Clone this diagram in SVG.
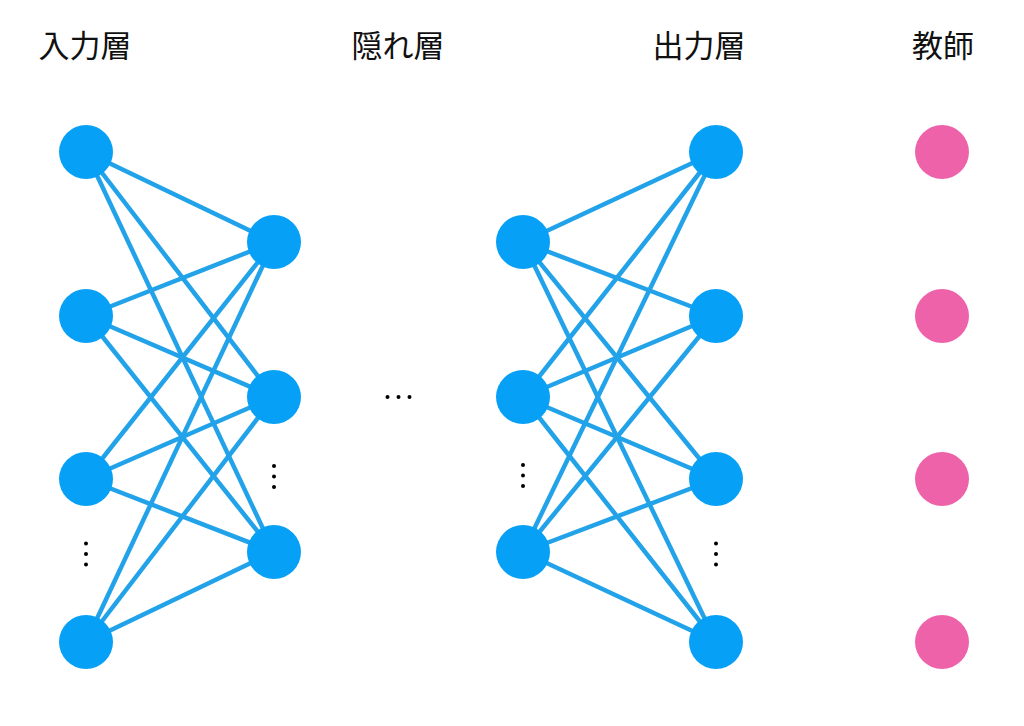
<svg xmlns="http://www.w3.org/2000/svg" width="1024" height="726" viewBox="0 0 1024 726">
<style>
.lbl{font-family:"Noto Sans CJK JP","Noto Sans",sans-serif;font-size:31px;fill:#111;text-anchor:middle}
.n{fill:#06a0f7}
.t{fill:#ee62a9}
.e line{stroke:#22a2e8;stroke-width:4.5;stroke-linecap:butt}
.d{fill:#000}
</style>
<rect width="1024" height="726" fill="#fff"/>
<g id="labels">
<text class="lbl" x="85" y="57">入力層</text>
<text class="lbl" x="398" y="57">隠れ層</text>
<text class="lbl" x="699" y="57">出力層</text>
<text class="lbl" x="943" y="57">教師</text>
</g>
<g id="connectors" class="e">
<line x1="86" y1="152" x2="274" y2="242"/>
<line x1="86" y1="152" x2="274" y2="397"/>
<line x1="86" y1="152" x2="274" y2="552"/>
<line x1="86" y1="316" x2="274" y2="242"/>
<line x1="86" y1="316" x2="274" y2="397"/>
<line x1="86" y1="316" x2="274" y2="552"/>
<line x1="86" y1="479" x2="274" y2="242"/>
<line x1="86" y1="479" x2="274" y2="397"/>
<line x1="86" y1="479" x2="274" y2="552"/>
<line x1="86" y1="642" x2="274" y2="242"/>
<line x1="86" y1="642" x2="274" y2="397"/>
<line x1="86" y1="642" x2="274" y2="552"/>
<line x1="523" y1="242" x2="716" y2="152"/>
<line x1="523" y1="242" x2="716" y2="316"/>
<line x1="523" y1="242" x2="716" y2="479"/>
<line x1="523" y1="242" x2="716" y2="642"/>
<line x1="523" y1="397" x2="716" y2="152"/>
<line x1="523" y1="397" x2="716" y2="316"/>
<line x1="523" y1="397" x2="716" y2="479"/>
<line x1="523" y1="397" x2="716" y2="642"/>
<line x1="523" y1="552" x2="716" y2="152"/>
<line x1="523" y1="552" x2="716" y2="316"/>
<line x1="523" y1="552" x2="716" y2="479"/>
<line x1="523" y1="552" x2="716" y2="642"/>
</g>
<g id="input">
<circle id="in1" class="n" cx="86" cy="152" r="27"/>
<circle id="in2" class="n" cx="86" cy="316" r="27"/>
<circle id="in3" class="n" cx="86" cy="479" r="27"/>
<circle id="in4" class="n" cx="86" cy="642" r="27"/>
</g>
<g id="hidden1">
<circle id="h1a" class="n" cx="274" cy="242" r="27"/>
<circle id="h1b" class="n" cx="274" cy="397" r="27"/>
<circle id="h1c" class="n" cx="274" cy="552" r="27"/>
</g>
<g id="hidden2">
<circle id="h2a" class="n" cx="523" cy="242" r="27"/>
<circle id="h2b" class="n" cx="523" cy="397" r="27"/>
<circle id="h2c" class="n" cx="523" cy="552" r="27"/>
</g>
<g id="output">
<circle id="o1" class="n" cx="716" cy="152" r="27"/>
<circle id="o2" class="n" cx="716" cy="316" r="27"/>
<circle id="o3" class="n" cx="716" cy="479" r="27"/>
<circle id="o4" class="n" cx="716" cy="642" r="27"/>
</g>
<g id="teacher">
<circle id="t1" class="t" cx="942" cy="152" r="27"/>
<circle id="t2" class="t" cx="942" cy="316" r="27"/>
<circle id="t3" class="t" cx="942" cy="479" r="27"/>
<circle id="t4" class="t" cx="942" cy="642" r="27"/>
</g>
<g id="ellipses">
<circle class="d" cx="86" cy="543.5" r="2"/><circle class="d" cx="86" cy="554" r="2"/><circle class="d" cx="86" cy="564.5" r="2"/>
<circle class="d" cx="274" cy="466" r="2"/><circle class="d" cx="274" cy="476.5" r="2"/><circle class="d" cx="274" cy="487" r="2"/>
<circle class="d" cx="387.5" cy="397" r="2"/><circle class="d" cx="398.5" cy="397" r="2"/><circle class="d" cx="409.5" cy="397" r="2"/>
<circle class="d" cx="523" cy="465" r="2"/><circle class="d" cx="523" cy="475.5" r="2"/><circle class="d" cx="523" cy="486" r="2"/>
<circle class="d" cx="716" cy="543.5" r="2"/><circle class="d" cx="716" cy="554" r="2"/><circle class="d" cx="716" cy="564.5" r="2"/>
</g>
</svg>
